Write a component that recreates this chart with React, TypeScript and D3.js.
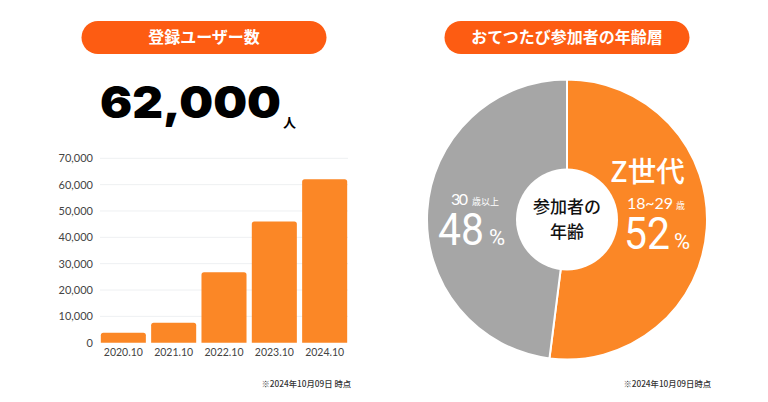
import React from 'react';
import * as d3 from 'd3';

const years = ['2020.10', '2021.10', '2022.10', '2023.10', '2024.10'];
const users = [3800, 7600, 26700, 46000, 62000];
const yTicks = [0, 10000, 20000, 30000, 40000, 50000, 60000, 70000];
const ageLabels = ['Z世代', '30歳以上'];
const ageShares = [52, 48];

const ORANGE = '#fb8726';
const PILL = '#fd5c12';
const GRAY = '#a6a6a6';
const JP = '"Noto Sans CJK JP", "Noto Sans", sans-serif';
const LATIN = 'Lato, "Noto Sans", sans-serif';
const NUM = 'Roboto, Lato, sans-serif';

const x = d3.scaleBand<string>().domain(years).range([98.3, 349.7]).paddingInner(0.105).paddingOuter(0.05);
const y = d3.scaleLinear().domain([0, 70000]).range([342.7, 158.3]);
const fmt = d3.format(',');

const pieCx = 567;
const pieCy = 219.5;
const slices = d3.pie<number>().sort(null)(ageShares);
const arc = d3.arc<d3.PieArcDatum<number>>().innerRadius(0).outerRadius(140);
const pieColors = d3.scaleOrdinal<string, string>().domain(ageLabels).range([ORANGE, GRAY]);

function Pill({ cx, text, w }: { cx: number; text: string; w: number }) {
  return (
    <g>
      <rect x={cx - w / 2} y={21} width={w} height={33} rx={16.5} fill={PILL} />
      <text x={cx} y={43} textAnchor="middle" fill="#fff" fontFamily={JP} fontWeight={700} fontSize={16}>{text}</text>
    </g>
  );
}

function barPath(x0: number, y0: number, w: number, h: number) {
  const r = 2.5;
  const p = d3.path();
  p.moveTo(x0, y0 + h);
  p.lineTo(x0, y0 + r);
  p.quadraticCurveTo(x0, y0, x0 + r, y0);
  p.lineTo(x0 + w - r, y0);
  p.quadraticCurveTo(x0 + w, y0, x0 + w, y0 + r);
  p.lineTo(x0 + w, y0 + h);
  p.closePath();
  return p.toString();
}

export default function App() {
  return (
    <svg width={768} height={402} style={{ position: 'fixed', left: 0, top: 0, background: '#fff' }}>
      <Pill cx={204} w={245} text="登録ユーザー数" />
      <Pill cx={567} w={245} text="おてつたび参加者の年齢層" />

      <text x={100} y={118} fontFamily="Inter, Lato, sans-serif" fontWeight={900} fontSize={44} fill="#000" textLength={181} lengthAdjust="spacingAndGlyphs">62,000</text>
      <text x={283} y={127} fontFamily={JP} fontWeight={700} fontSize={13} fill="#000">人</text>

      {yTicks.map((t) => (
        <g key={t}>
          {t > 0 && <line x1={100} x2={348} y1={y(t)} y2={y(t)} stroke="#eef0f2" strokeWidth={1} />}
          <text x={93} y={y(t) + 4} textAnchor="end" fontFamily={LATIN} fontSize={11} fill="#444">{fmt(t)}</text>
        </g>
      ))}
      {years.map((yr, i) => (
        <g key={yr}>
          <path d={barPath(x(yr)!, y(users[i]), x.bandwidth(), y(0) - y(users[i]))} fill={ORANGE} />
          <text x={x(yr)! + x.bandwidth() / 2} y={356} textAnchor="middle" fontFamily={LATIN} fontSize={10.5} fill="#444">{yr}</text>
        </g>
      ))}
      <text x={351} y={387} textAnchor="end" fontFamily={JP} fontWeight={500} fontSize={8.3} fill="#333">※2024年10月09日 時点</text>

      <g transform={`translate(${pieCx},${pieCy})`}>
        {slices.map((s, i) => (
          <path key={i} d={arc(s)!} fill={pieColors(ageLabels[i])} stroke="#fff" strokeWidth={2} />
        ))}
        <circle r={51} fill="#fff" />
      </g>
      <text x={pieCx} y={213} textAnchor="middle" fontFamily={JP} fontWeight={500} fontSize={17} fill="#111">参加者の</text>
      <text x={pieCx} y={238} textAnchor="middle" fontFamily={JP} fontWeight={500} fontSize={17} fill="#111">年齢</text>

      <text x={647.5} y={182} textAnchor="middle" fontFamily={JP} fontWeight={500} fontSize={28.5} fill="#fff">{ageLabels[0]}</text>
      <text x={627} y={209} fontFamily={LATIN} fontSize={16} fill="#fff" textLength={46}>18~29</text>
      <text x={676} y={209} fontFamily={JP} fontSize={9} fill="#fff">歳</text>
      <text x={624} y={249} fontFamily={NUM} fontWeight={400} fontSize={45} fill="#fff" textLength={46} lengthAdjust="spacingAndGlyphs">{ageShares[0]}</text>
      <text x={674} y={249} fontFamily={NUM} fontSize={22} fill="#fff">%</text>

      <text x={451} y={205} fontFamily={LATIN} fontSize={16} fill="#fff" textLength={17}>30</text>
      <text x={472} y={205} fontFamily={JP} fontSize={9} fill="#fff">歳以上</text>
      <text x={438} y={245} fontFamily={NUM} fontWeight={400} fontSize={45} fill="#fff" textLength={46} lengthAdjust="spacingAndGlyphs">{ageShares[1]}</text>
      <text x={489} y={245} fontFamily={NUM} fontSize={22} fill="#fff">%</text>

      <text x={711} y={387} textAnchor="end" fontFamily={JP} fontWeight={500} fontSize={8.3} fill="#333">※2024年10月09日時点</text>
    </svg>
  );
}
